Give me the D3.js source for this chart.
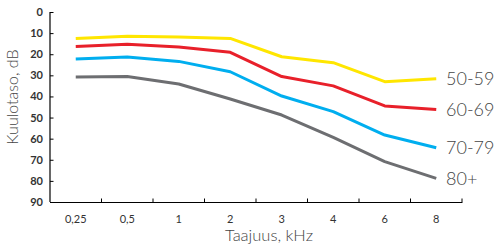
<!DOCTYPE html>
<html><head><meta charset="utf-8">
<script src="https://cdn.jsdelivr.net/npm/d3@7"></script>
<style>body{margin:0;background:#fff}svg{display:block}</style>
</head><body>
<script>
const categories = ["0,25","0,5","1","2","3","4","6","8"];
const seriesNames = ["50-59","60-69","70-79","80+"];
const s5059 = [12.6, 11.5, 11.8, 12.5, 21.2, 24.0, 33.0, 31.6];
const s6069 = [16.3, 15.3, 16.6, 19.1, 30.6, 35.0, 44.5, 46.2];
const s7079 = [22.3, 21.3, 23.4, 28.3, 39.8, 47.2, 58.3, 64.3];
const s80 = [30.8, 30.6, 34.1, 41.2, 48.8, 59.4, 70.9, 78.8];
const yTicks = [0,10,20,30,40,50,60,70,80,90];
const colors = ["#FFE600","#E8202A","#00AEEF","#6D6E71"];
const allSeries = [s5059, s6069, s7079, s80];

const W = 498, H = 246;
const m = {left: 50, right: 36, top: 12, bottom: 44};
const svg = d3.select("body").append("svg").attr("width", W).attr("height", H);
const x = d3.scaleBand().domain(categories).range([m.left, 462]).padding(0);
const y = d3.scaleLinear().domain([0, 90]).range([m.top, 202]);

// axes
const xAxis = d3.axisBottom(x).tickSize(0).tickFormat(d => d);
const gx = svg.append("g").attr("transform", `translate(0,${y(90)})`).call(xAxis);
gx.select(".domain").attr("stroke", "#000").attr("stroke-width", 1.2);
gx.selectAll(".tick text").attr("dy", "1.6em").attr("font-family", "Lato, sans-serif")
  .attr("font-size", 11).attr("fill", "#333");
// band-boundary ticks pointing up
const bounds = categories.map(c => x(c)).slice(1).concat([x(categories[categories.length-1]) + x.bandwidth()]);
gx.selectAll(".bt").data(bounds).join("line").attr("class","bt")
  .attr("x1", d => d).attr("x2", d => d).attr("y1", 0).attr("y2", -3.5)
  .attr("stroke", "#000").attr("stroke-width", 1);

const yAxis = d3.axisLeft(y).tickValues(yTicks).tickSize(-3.5).tickPadding(7);
const gy = svg.append("g").attr("transform", `translate(${m.left},0)`).call(yAxis);
gy.select(".domain").attr("stroke", "#000").attr("stroke-width", 1.2).attr("d", `M0,${y(0)}V${y(90)}`);
gy.selectAll(".tick line").attr("stroke", "#000");
gy.selectAll(".tick text").attr("font-family", "Lato, sans-serif").attr("font-size", 11)
  .attr("font-weight", 700).attr("fill", "#333");

// lines
const line = d3.line().x((d, i) => x(categories[i]) + x.bandwidth() / 2).y(d => y(d));
allSeries.forEach((s, k) => {
  svg.append("path").datum(s).attr("d", line).attr("fill", "none")
    .attr("stroke", colors[k]).attr("stroke-width", 3).attr("stroke-linejoin", "round");
  svg.append("text").attr("x", 446).attr("y", y(s[s.length - 1]))
    .attr("dy", "0.36em").attr("font-family", "Lato, sans-serif").attr("font-weight", 300)
    .attr("font-size", 18).attr("fill", "#444").text(seriesNames[k]);
});

// titles
svg.append("text").attr("x", 269).attr("y", 241).attr("text-anchor", "middle")
  .attr("font-family", "Lato, sans-serif").attr("font-weight", 300).attr("font-size", 16.5)
  .attr("fill", "#444").text("Taajuus, kHz");
svg.append("text").attr("transform", "translate(18,97) rotate(-90)").attr("text-anchor", "middle")
  .attr("font-family", "Lato, sans-serif").attr("font-weight", 300).attr("font-size", 16)
  .attr("fill", "#444").text("Kuulotaso, dB");
</script>
</body></html>
